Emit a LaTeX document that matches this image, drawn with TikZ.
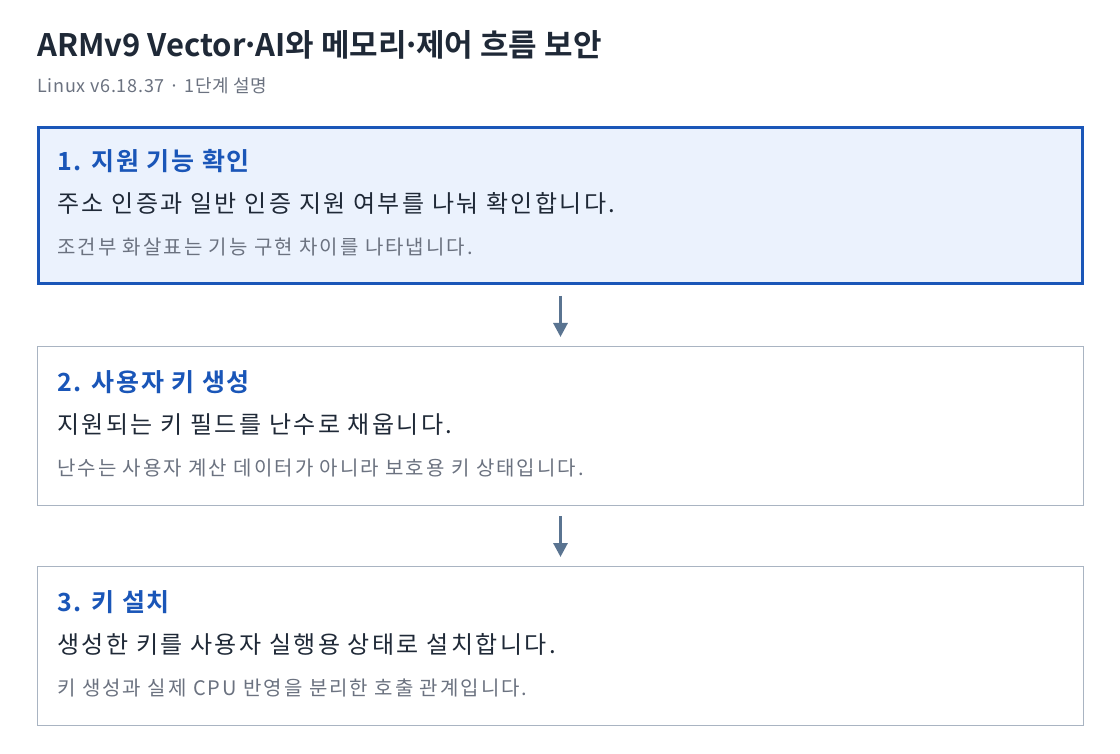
\documentclass[tikz,border=0pt]{standalone}
\usepackage{fontspec}
\setmainfont{Noto Sans CJK KR}[BoldFont={* Bold}]
\usepackage{tikz}
\usetikzlibrary{positioning,arrows.meta}
\definecolor{inkdark}{HTML}{1F2937}
\definecolor{inkgray}{HTML}{6B7280}
\definecolor{stepblue}{HTML}{1A56B8}
\definecolor{stepfill}{HTML}{EBF2FD}
\definecolor{stepline}{HTML}{A9B4C2}
\definecolor{flowgray}{HTML}{5A7491}
\newcommand{\tightdot}{\kern-0.14em·\kern-0.14em}
\tikzset{%
  every step/.style={
    rectangle,
    draw=stepline,
    line width=1pt,
    fill=white,
    minimum width=1046pt,
    minimum height=159pt,
    inner sep=0pt
  },
  step active/.style={
    draw=stepblue,
    line width=3pt,
    fill=stepfill,
    minimum width=1044pt,
    minimum height=156pt
  },
  step title/.style={anchor=base west, inner sep=0pt, text=stepblue,
    font=\fontsize{25}{30}\selectfont\bfseries\addfontfeature{LetterSpace=7}},
  step text/.style={anchor=base west, inner sep=0pt, text=inkdark,
    font=\fontsize{24}{29}\selectfont\addfontfeature{LetterSpace=10}},
  step note/.style={anchor=base west, inner sep=0pt, text=inkgray,
    font=\fontsize{20}{24}\selectfont\addfontfeature{LetterSpace=10}},
  flow/.style={draw=flowgray, line width=3pt,
    -{Triangle[width=14pt,length=14pt]}},
}

\begin{document}
\begin{tikzpicture}[x=1pt, y=-1pt]

        \useasboundingbox (0,0) rectangle (1120,754);
        \fill [white] (0,0) rectangle (1120,754);

        % heading
        \node [anchor=base west, inner sep=0pt, text=inkdark,
          font=\fontsize{31}{36}\selectfont\bfseries] (head) at (37,57)
          {ARMv9 Vector\tightdot AI와 메모리\tightdot 제어 흐름 보안};
        \node [anchor=base west, inner sep=0pt, text=inkgray,
          font=\fontsize{18}{22}\selectfont\addfontfeature{LetterSpace=4}] (sub) at ([yshift=-36pt]head.base west)
          {Linux v6.18.37 · 1단계 설명};

        % steps
        \foreach \m/\c [count=\i] in {active/205.5, plain/426, plain/646}
        \node [every step/.try, step \m/.try] (step-\i) at (560.5,\c) {};

        %   texts
        \foreach \t/\b/\n [count=\i] in {
          {1. 지원 기능 확인}/{주소 인증과 일반 인증 지원 여부를 나눠 확인합니다.}/{조건부 화살표는 기능 구현 차이를 나타냅니다.},
          {2. 사용자 키 생성}/{지원되는 키 필드를 난수로 채웁니다.}/{난수는 사용자 계산 데이터가 아니라 보호용 키 상태입니다.},
          {3. 키 설치}/{생성한 키를 사용자 실행용 상태로 설치합니다.}/{키 생성과 실제 CPU 반영을 분리한 호출 관계입니다.}}
        {
        \node [step title] (title-\i) at ([xshift=20pt, yshift=-45pt]step-\i.north west) {\t};
        \node [step text] (text-\i) at ([yshift=-42pt]title-\i.base west) {\b};
        \node [step note] (note-\i) at ([yshift=-42pt]text-\i.base west) {\n};
        }

        \draw [flow, shorten <=11pt, shorten >=9pt] (step-1) -- (step-2);
        \draw [flow, shorten <=10pt, shorten >=9pt] (step-2) -- (step-3);

\end{tikzpicture}
\end{document}
